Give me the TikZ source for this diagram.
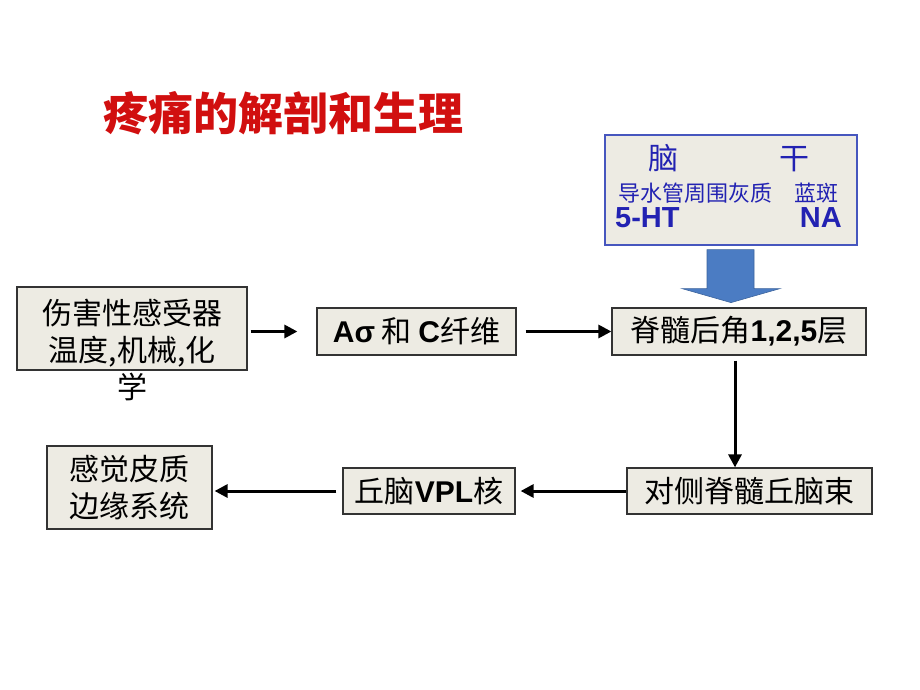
\documentclass[tikz,border=0pt]{standalone}
\usepackage{fontspec}
\setmainfont{Liberation Sans}
\newfontfamily\cjk{Noto Sans CJK SC}
\usepackage{xcolor}
\usetikzlibrary{arrows.meta,calc}
\definecolor{boxfill}{HTML}{EDEBE3}
\definecolor{stemblue}{HTML}{4656BE}
\definecolor{stemtext}{HTML}{2222B2}
\definecolor{bigarrow}{HTML}{4B7CC3}
\definecolor{titlered}{HTML}{D10F0F}
\newcommand{\lat}[1]{{\normalfont\bfseries #1}}

\begin{document}
\begin{tikzpicture}[x=1pt,y=-1pt,
    box/.style={draw=black!80, line width=1.2pt, fill=boxfill, inner sep=0pt,
      font=\cjk\fontsize{30}{37}\selectfont, align=center},
    boxtxt/.style={font=\cjk\fontsize{30}{37}\selectfont, align=center, inner sep=0pt},
    stemtxt/.style={text=stemtext, inner sep=0pt},
    arr/.style={line width=3pt, -{Triangle[length=13pt,width=13pt]}}]
  \useasboundingbox (0,0) rectangle (920,690);

  % Title
  \node [font=\cjk\bfseries\fontsize{45}{45}\selectfont, text=titlered] (title) at (283,113) {疼痛的解剖和生理};

  % Brain stem box
  \node [box, draw=stemblue, minimum width=252pt, minimum height=110pt] (stem) at (731,190) {};
  \node [stemtxt, font=\cjk\fontsize{30}{30}\selectfont] (stemname) at (729,158) {脑\hspace{101pt}干};
  \node [stemtxt, font=\cjk\fontsize{22}{22}\selectfont] (stemnuc) at (728,193) {导水管周围灰质\hspace{22pt}蓝斑};
  \node [stemtxt, font=\bfseries\fontsize{29}{29}\selectfont, anchor=base west] (serot) at (615,227) {5-HT};
  \node [stemtxt, font=\bfseries\fontsize{29}{29}\selectfont, anchor=base east] (norad) at (842,227) {NA};

  % Pathway boxes
  \node [box, minimum width=230pt, minimum height=83pt] (noci) at (132,328.5) {};
  \node [boxtxt] (nocitxt) at (132,350) {伤害性感受器\\温度,机械,化\hspace*{16pt}\\学};
  \node [box, minimum width=199pt, minimum height=47pt] (afib) at (416.5,331.5) {\lat{Aσ} 和 \lat{C}纤维};
  \node [box, minimum width=254pt, minimum height=47pt] (horn) at (739,331.5) {脊髓后角\lat{1,2,5}层};
  \node [box, minimum width=245pt, minimum height=46pt] (tract) at (749.5,491) {对侧脊髓丘脑束};
  \node [box, minimum width=172pt, minimum height=46pt] (vpl) at (429,491) {丘脑\lat{VPL}核};
  \node [box, minimum width=165pt, minimum height=83pt] (cortex) at (129.5,487.5) {感觉皮质\\边缘系统};

  % Block arrow from brain stem
  \draw [draw=bigarrow!80!black, fill=bigarrow, line width=0.6pt]
    ($(stem.south)+(-24,4)$) -- ($(stem.south)+(23,4)$) -- ($(stem.south)+(23,43)$)
    -- ($(stem.south)+(49,43)$) -- ($(stem.south)+(0,57)$) -- ($(stem.south)+(-49,43)$)
    -- ($(stem.south)+(-24,43)$) -- cycle;

  % Arrows
  \draw [arr, shorten <=3pt, shorten >=19pt] (noci.east |- afib.west) -- (afib.west);
  \draw [arr, shorten <=9pt] (afib.east) -- (horn.west);
  \draw [arr, shorten <=5pt] ([xshift=-4pt]horn.south) -- ([xshift=-4pt]horn.south |- tract.north);
  \draw [arr, shorten >=5pt] (tract.west) -- (vpl.east);
  \draw [arr, shorten <=6pt, shorten >=2pt] (vpl.west) -- (vpl.west -| cortex.east);
\end{tikzpicture}
\end{document}
